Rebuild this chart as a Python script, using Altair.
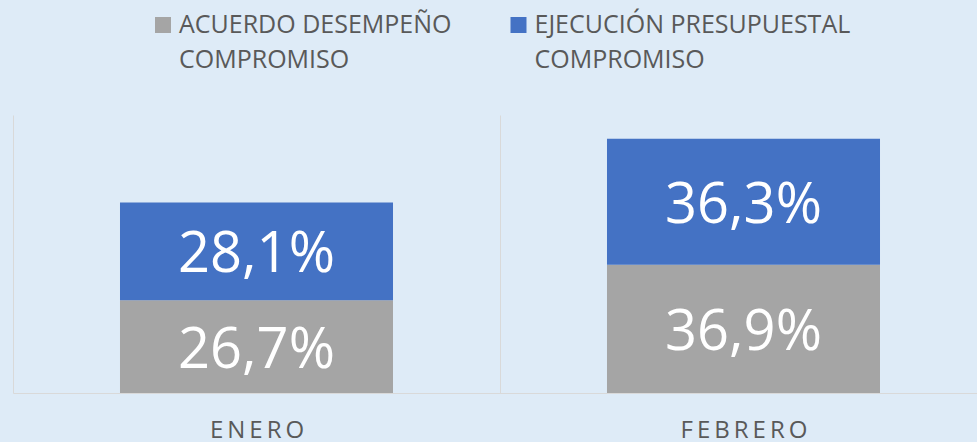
import altair as alt
import pandas as pd

months = ["ENERO", "FEBRERO"]
series = ["ACUERDO DESEMPEÑO COMPROMISO", "EJECUCIÓN PRESUPUESTAL COMPROMISO"]
acuerdo = [26.7, 36.9]
ejecucion = [28.1, 36.3]
colors = ["#A5A5A5", "#4472C4"]

rows = []
for i, m in enumerate(months):
    rows.append({"month": m, "series": series[0], "value": acuerdo[i], "order": 0})
    rows.append({"month": m, "series": series[1], "value": ejecucion[i], "order": 1})
df = pd.DataFrame(rows)
legend_df = pd.DataFrame({"series": series})

FONT = "Open Sans"
TEXT_COLOR = "#595959"
GRID = "#D9D9D9"

color = alt.Color("series:N", scale=alt.Scale(domain=series, range=colors), legend=None)
xscale = alt.Scale(domain=months, range=[0, 974], paddingInner=0.4394, paddingOuter=0.2197)
xscale_full = alt.Scale(domain=months, range=[0, 974], padding=0)
yscale = alt.Scale(domain=[0, 80])

bars = alt.Chart(df).mark_bar().encode(
    x=alt.X("month:N", sort=months, scale=xscale, axis=None),
    y=alt.Y("value:Q", stack="zero", scale=yscale, axis=None),
    color=color,
    order=alt.Order("order:Q", sort="ascending"),
)

labels = alt.Chart(df).transform_stack(
    stack="value", groupby=["month"], as_=["y0", "y1"],
    sort=[alt.SortField("order", order="ascending")]
).transform_calculate(
    mid="(datum.y0 + datum.y1) / 2",
    lbl="replace(format(datum.value, '.1f'), '.', ',') + '%'",
).mark_text(font=FONT, fontSize=56, color="white", baseline="middle", align="center", dy=4).encode(
    x=alt.X("month:N", sort=months, scale=xscale_full, title=None,
            axis=alt.Axis(grid=True, tickBand="extent", ticks=False, labelAngle=0,
                          labelFont=FONT, labelFontSize=24, labelColor=TEXT_COLOR,
                          labelPadding=25, domainColor=GRID, gridColor=GRID,
                          labelExpr="join(split(datum.label, ''), '\u2006')")),
    y=alt.Y("mid:Q", scale=yscale, axis=None),
    text="lbl:N",
)

lscale = alt.Scale(type="point", domain=series, range=[150, 505.5], padding=0)

leg_sq = alt.Chart(legend_df).mark_square(size=256, opacity=1, filled=True).encode(
    x=alt.X("series:N", scale=lscale, axis=None),
    y=alt.value(-90),
    color=color,
)

leg_txt = alt.Chart(legend_df).transform_calculate(
    lines="[slice(datum.series, 0, lastindexof(datum.series, ' ')), slice(datum.series, lastindexof(datum.series, ' ') + 1)]"
).mark_text(font=FONT, fontSize=25, color=TEXT_COLOR, align="left", baseline="alphabetic",
            dx=16, lineHeight=35).encode(
    x=alt.X("series:N", scale=lscale, axis=None),
    y=alt.value(-82),
    text="lines:N",
)

chart = alt.layer(bars, labels, leg_sq, leg_txt).resolve_scale(x="independent").properties(
    width=964, height=278,
    padding={"left": 13, "top": 115, "right": 0, "bottom": 49},
    autosize="none",
    background="#DEEBF7",
).configure_view(stroke=None)

chart.save("out.html", embed_options={"renderer": "svg", "actions": False})
